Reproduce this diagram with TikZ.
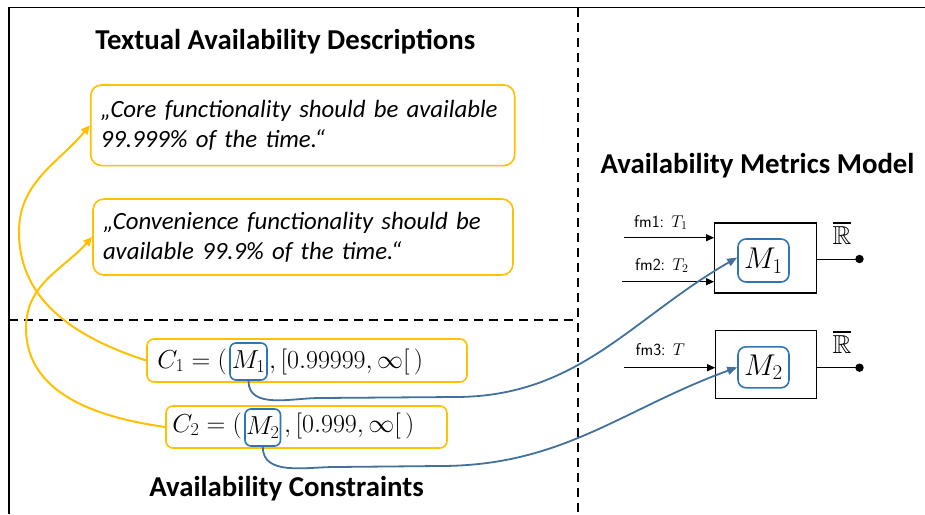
\RequirePackage{fix-cm}
\documentclass[tikz,border=0pt]{standalone}
\usepackage{amssymb}
\usepackage{fontspec}
\setmainfont{Carlito}
\usetikzlibrary{arrows.meta}
\definecolor{gold}{HTML}{FFC000}
\definecolor{refblue}{HTML}{2E75B6}
\definecolor{linkblue}{HTML}{41719C}
\tikzset{
  frame/.style={line width=1.5pt},
  sep/.style={line width=1.5pt, dash pattern=on 9pt off 6pt},
  heading/.style={font=\fontsize{28.8}{34}\selectfont\bfseries, inner sep=0pt, anchor=base},
  quote/.style={draw=gold, line width=1.6pt, rounded corners=11pt, align=left,
    font=\fontsize{24.8}{30}\selectfont\itshape, inner xsep=10pt, inner ysep=0pt,
    execute at begin node={\hyphenpenalty=10000\exhyphenpenalty=10000}},
  cons/.style={draw=gold, line width=1.6pt, rounded corners=7pt, inner sep=0pt},
  mref/.style={draw=refblue, line width=1.6pt, rounded corners=6pt, inner sep=0pt,
    font=\fontsize{26}{30}\selectfont},
  mtxt/.style={inner sep=0pt, font=\fontsize{26}{30}\selectfont},
  metric/.style={draw=black, line width=1.2pt, inner sep=0pt},
  minner/.style={draw=refblue, line width=1.6pt, rounded corners=8pt, inner sep=0pt,
    font=\fontsize{30}{34}\selectfont},
  inlab/.style={inner sep=0pt, anchor=base west, font=\fontsize{17}{19}\selectfont\sffamily},
  rlab/.style={inner sep=0pt, font=\fontsize{26}{30}\selectfont},
  inarrow/.style={line width=0.9pt, -{Triangle[length=8pt,width=7pt]}},
  outline/.style={line width=0.9pt},
  yarrow/.style={draw=gold, line width=2pt, -{Triangle[length=9pt,width=8pt]}},
  barrow/.style={draw=linkblue, line width=1.8pt, -{Triangle[length=10pt,width=8pt]}},
}
\begin{document}
\begin{tikzpicture}[x=1pt,y=1pt]
\useasboundingbox (0,0) rectangle (925,-514);
% frame and separators
\coordinate (ftl) at (9,-7.5);
\coordinate (ftr) at (925,-7.5);
\coordinate (fbl) at (9,-514);
\coordinate (vtop) at (578,-7.5);
\coordinate (vbot) at (578,-514);
\coordinate (hl) at (9,-320);
\coordinate (hr) at (578,-320);
\draw[frame] (fbl) -- (ftl) -- (ftr);
\draw[sep] (vtop) -- (vbot);
\draw[sep] (hl) -- (hr);

% headings
\node[heading] (t1) at (285.3,-49.5) {Textual Availability Descriptions};
\node[heading] (t2) at (286.5,-496.5) {Availability Constraints};
\node[heading] (t3) at (757.5,-173) {Availability Metrics Model};

% textual descriptions
\node[quote, minimum width=424pt, minimum height=80.7pt, text width=404pt] (d1) at (302.7,-125.3)
  {„Core functionality should be available\\99.999\% of the time.“};
\node[quote, minimum width=420pt, minimum height=76pt, text width=400pt] (d2) at (303,-237)
  {„Convenience functionality should be\\available 99.9\% of the time.“};

% constraints
\node[cons, minimum width=320pt, minimum height=43pt] (c1) at (307,-360.5) {};
\node[mref, minimum width=37pt, minimum height=37pt] (r1) at (248.5,-361.5) {$M_1$};
\node[mtxt, anchor=base east] (c1a) at (227,-368) {$C_1=($};
\node[mtxt, anchor=base west] (c1b) at (269,-368) {$,[0.99999,\infty[\,)$};

\node[cons, minimum width=281pt, minimum height=42pt] (c2) at (306.5,-427) {};
\node[mref, minimum width=35.5pt, minimum height=37pt] (r2) at (262.75,-427.5) {$M_2$};
\node[mtxt, anchor=base east] (c2a) at (242,-432) {$C_2=($};
\node[mtxt, anchor=base west] (c2b) at (284,-432) {$,[0.999,\infty[\,)$};

% metrics model
\node[metric, minimum width=102pt, minimum height=70pt] (mb1) at (765.7,-258) {};
\node[minner, minimum width=51pt, minimum height=43pt] (m1) at (763.5,-260.5) {$M_1$};
\node[metric, minimum width=101pt, minimum height=68pt] (mb2) at (766.3,-364.8) {};
\node[minner, minimum width=51pt, minimum height=41pt] (m2) at (763.5,-367.3) {$M_2$};

\coordinate (i1) at (624,-237.7);
\coordinate (i2) at (622,-281.7);
\coordinate (i3) at (624,-367.7);
\draw[inarrow] (i1) -- (i1 -| mb1.west);
\draw[inarrow] (i2) -- (i2 -| mb1.west);
\draw[inarrow] (i3) -- (i3 -| mb2.west);
\node[inlab] (l1) at (634,-227) {fm1: $T_1$};
\node[inlab] (l2) at (635,-270) {fm2: $T_2$};
\node[inlab] (l3) at (635.5,-355) {fm3: $T$};

\coordinate (o1) at (859.5,-259);
\coordinate (o2) at (859.5,-367.7);
\draw[outline] (o1 -| mb1.east) -- (o1);
\draw[outline] (o2 -| mb2.east) -- (o2);
\fill (o1) circle (4.2pt);
\fill (o2) circle (4.2pt);
\node[rlab] (rr1) at (842,-233) {$\overline{\mathbb{R}}$};
\node[rlab] (rr2) at (842,-342) {$\overline{\mathbb{R}}$};

% yellow links
\coordinate (y1) at (19,-232);
\coordinate (y2) at (26,-328);
\draw[yarrow] (c1.west) to[out=162,in=-90] (y1) to[out=90,in=230] (d1.west);
\draw[yarrow] (c2.west) to[out=172,in=-90] (y2) to[out=90,in=228] (d2.west);

% blue links
\coordinate (b1a) at (320,-398);
\coordinate (b1b) at (455,-397);
\coordinate (b2a) at (335,-467);
\coordinate (b2b) at (440,-466);
\draw[barrow] (r1.south) to[out=-90,in=180] (b1a) -- (b1b) to[out=0,in=210] ([yshift=3pt]m1.west);
\draw[barrow] (r2.south) to[out=-90,in=180] (b2a) -- (b2b) to[out=0,in=200] (m2.west);
\end{tikzpicture}
\end{document}
